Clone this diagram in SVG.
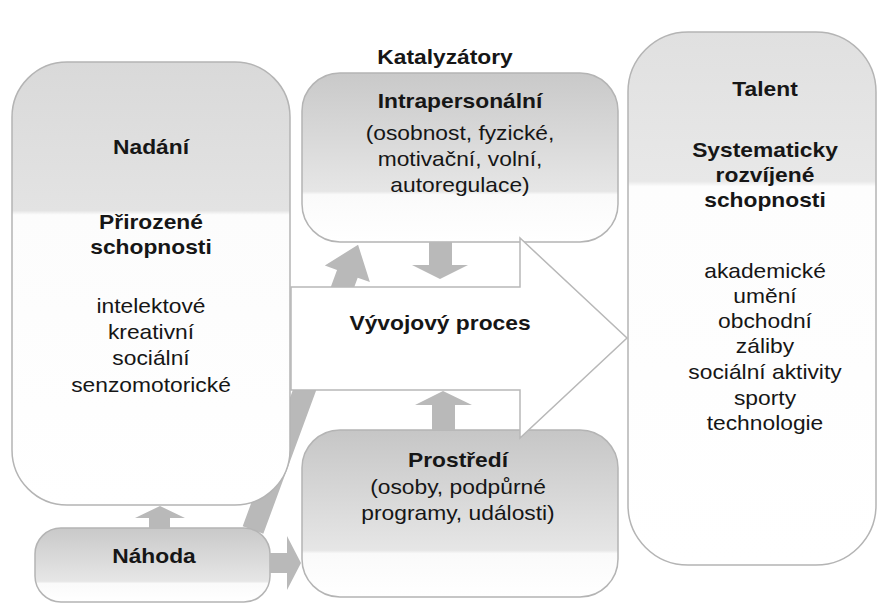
<svg xmlns="http://www.w3.org/2000/svg" width="878" height="603" viewBox="0 0 878 603">
<defs>
<style>
.t{font-family:"Liberation Sans",Arial,sans-serif;font-size:20px;fill:#161616;text-anchor:middle}
.b{font-weight:bold}
.box{stroke:#b4b4b4;stroke-width:1.5}
.ga{fill:#b9b9b9;stroke:none}
.big{fill:#ffffff;stroke:#b8b8b8;stroke-width:1.5}
</style>
<linearGradient id="gNad" x1="0" y1="0" x2="0" y2="1">
<stop offset="0" stop-color="#d9d9d9"/><stop offset="0.335" stop-color="#e3e3e3"/><stop offset="0.345" stop-color="#fcfcfc"/><stop offset="1" stop-color="#ffffff"/>
</linearGradient>
<linearGradient id="gInt" x1="0" y1="0" x2="0" y2="1">
<stop offset="0" stop-color="#c9c9c9"/><stop offset="0.7" stop-color="#e6e6e6"/><stop offset="0.72" stop-color="#fafafa"/><stop offset="1" stop-color="#ffffff"/>
</linearGradient>
<linearGradient id="gTal" x1="0" y1="0" x2="0" y2="1">
<stop offset="0" stop-color="#e0e0e0"/><stop offset="0.28" stop-color="#e8e8e8"/><stop offset="0.29" stop-color="#fdfdfd"/><stop offset="1" stop-color="#ffffff"/>
</linearGradient>
<linearGradient id="gPro" x1="0" y1="0" x2="0" y2="1">
<stop offset="0" stop-color="#c6c6c6"/><stop offset="0.72" stop-color="#e6e6e6"/><stop offset="0.74" stop-color="#fafafa"/><stop offset="1" stop-color="#ffffff"/>
</linearGradient>
<linearGradient id="gNah" x1="0" y1="0" x2="0" y2="1">
<stop offset="0" stop-color="#c9c9c9"/><stop offset="0.72" stop-color="#e6e6e6"/><stop offset="0.75" stop-color="#fafafa"/><stop offset="1" stop-color="#ffffff"/>
</linearGradient>
</defs>
<rect width="878" height="603" fill="#ffffff"/>

<g id="connectors-back">
<polygon class="ga" transform="translate(253 530) rotate(-69.78)" points="0,-11 273,-11 273,-24 304,0 273,24 273,11 0,11"/>
</g>

<g id="nadani">
<rect class="box" x="12" y="62" width="278" height="443" rx="55" fill="url(#gNad)"/>
<g transform="translate(151 0) scale(1.14 1)">
<text class="t b" x="0" y="154">Nadání</text>
<text class="t b" x="0" y="229">Přirozené</text>
<text class="t b" x="0" y="254">schopnosti</text>
<text class="t" x="0" y="313">intelektové</text>
<text class="t" x="0" y="339">kreativní</text>
<text class="t" x="0" y="365">sociální</text>
<text class="t" x="0" y="392">senzomotorické</text>
</g>
</g>

<g id="katalyzatory">
<g transform="translate(445 0) scale(1.14 1)">
<text class="t b" x="0" y="64">Katalyzátory</text>
</g>
</g>

<g id="intrapersonalni">
<rect class="box" x="302" y="73" width="316" height="169" rx="38" fill="url(#gInt)"/>
<g transform="translate(460 0) scale(1.14 1)">
<text class="t b" x="0" y="108">Intrapersonální</text>
<text class="t" x="0" y="140">(osobnost, fyzické,</text>
<text class="t" x="0" y="166">motivační, volní,</text>
<text class="t" x="0" y="192">autoregulace)</text>
</g>
</g>

<g id="prostredi">
<rect class="box" x="302" y="430" width="316" height="167" rx="38" fill="url(#gPro)"/>
<g transform="translate(458 0) scale(1.14 1)">
<text class="t b" x="0" y="467">Prostředí</text>
<text class="t" x="0" y="494">(osoby, podpůrné</text>
<text class="t" x="0" y="520">programy, události)</text>
</g>
</g>

<g id="nahoda">
<rect class="box" x="35" y="528" width="235" height="74" rx="26" fill="url(#gNah)"/>
<g transform="translate(154 0) scale(1.14 1)">
<text class="t b" x="0" y="563">Náhoda</text>
</g>
</g>

<g id="talent">
<rect class="box" x="628" y="32" width="248" height="533" rx="60" fill="url(#gTal)"/>
<g transform="translate(765 0) scale(1.14 1)">
<text class="t b" x="0" y="96">Talent</text>
<text class="t b" x="0" y="157">Systematicky</text>
<text class="t b" x="0" y="182">rozvíjené</text>
<text class="t b" x="0" y="207">schopnosti</text>
<text class="t" x="0" y="278">akademické</text>
<text class="t" x="0" y="303">umění</text>
<text class="t" x="0" y="328">obchodní</text>
<text class="t" x="0" y="353">záliby</text>
<text class="t" x="0" y="379">sociální aktivity</text>
<text class="t" x="0" y="405">sporty</text>
<text class="t" x="0" y="430">technologie</text>
</g>
</g>

<g id="vyvojovy-proces">
<polygon class="big" points="291,287 520,287 520,238 627,338 520,438 520,390 291,390"/>
<g transform="translate(440 0) scale(1.14 1)">
<text class="t b" x="0" y="330">Vývojový proces</text>
</g>
</g>

<g id="connectors">
<polygon class="ga" points="429,242 452,242 452,265 468,265 440,279 412,265 429,265"/>
<polygon class="ga" points="432,430 455,430 455,405 472,405 443,391 415,405 432,405"/>
<polygon class="ga" points="149,528 170,528 170,518 185,518 160,506 135,518 149,518"/>
<polygon class="ga" points="270,553 287,553 287,536 301,563 287,590 287,573 270,573"/>
</g>
</svg>
